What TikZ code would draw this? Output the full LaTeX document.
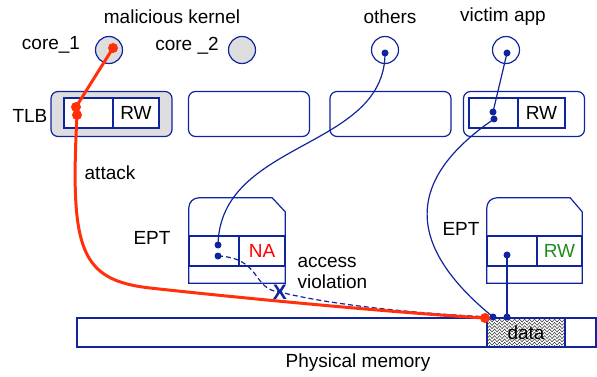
\documentclass[tikz,border=0pt]{standalone}
\usepackage{fontspec}
\setmainfont{Liberation Sans}
\usetikzlibrary{decorations.pathmorphing}
\definecolor{lnblue}{RGB}{16,36,158}
\definecolor{atkred}{RGB}{255,48,10}
\definecolor{okgreen}{RGB}{30,140,30}
\definecolor{coregray}{RGB}{222,222,222}

\begin{document}
\begin{tikzpicture}[x=1pt, y=-1pt, font=\fontsize{19}{21}\selectfont,
    core/.style={circle, draw=lnblue, line width=1.2pt, minimum size=27pt, inner sep=0pt},
    tlb/.style={rectangle, draw=lnblue, line width=1.2pt, rounded corners=7pt, minimum width=121pt, minimum height=45pt, inner sep=0pt},
    cell/.style={rectangle, draw=lnblue, line width=1.2pt, minimum height=30pt, inner sep=0pt},
    dot/.style={circle, fill=lnblue, inner sep=0pt, minimum size=7pt},
    rdot/.style={circle, fill=atkred, inner sep=0pt, minimum size=10pt},
    link/.style={draw=lnblue, line width=1.2pt},
    attack/.style={draw=atkred, line width=3pt}]
  \useasboundingbox (0,0) rectangle (597,377);

  \node (K) at (172,17) {malicious kernel};
  \node (OT) at (390,17) {others};
  \node (VT) at (503,17) {victim app};
  \node (L1) at (51,45) {core\_1};
  \node (L2) at (187,46) {core \_2};

  \node (C1) [core, fill=coregray] at (109,50) {};
  \node (C2) [core, fill=coregray] at (242,50) {};
  \node (O) [core] at (385,50) {};
  \node (V) [core] at (506,50) {};

  \node (TL) at (30,116) {TLB};
  \node (T1) [tlb, fill=coregray] at (111.5,114) {};
  \node (T2) [tlb] at (249,114) {};
  \node (T3) [tlb] at (390.5,114) {};
  \node (T4) [tlb] at (524,114) {};
  \node (T1a) [cell, fill=white, minimum width=49pt] at (88.5,113) {};
  \node (T1b) [cell, fill=white, minimum width=46pt] at (136,113) {RW};
  \node (T4a) [cell, minimum width=49pt] at (493.5,113) {};
  \node (T4b) [cell, minimum width=47pt] at (541.5,113) {RW};

  \node (AT) at (110,173) {attack};

  \node (EL1) at (152,238) {EPT};
  \node (E1) [minimum width=96pt, minimum height=85pt, inner sep=0pt] at (237,240.5) {};
  \draw[link] (E1.south west) [rounded corners=10pt] -- (E1.north west) [sharp corners]
    -- ([xshift=-13pt]E1.north east) -- ([yshift=-14pt]E1.north east) -- (E1.south east) -- cycle;
  \node (E1a) [cell, minimum width=50pt] at (214,251) {};
  \node (E1b) [cell, minimum width=46pt, text=red] at (262,251) {NA};

  \node (EL2) at (461,229) {EPT};
  \node (E2) [minimum width=95pt, minimum height=85pt, inner sep=0pt] at (534.5,240.5) {};
  \draw[link] (E2.south west) [rounded corners=10pt] -- (E2.north west) [sharp corners]
    -- ([xshift=-12pt]E2.north east) -- ([yshift=-14pt]E2.north east) -- (E2.south east) -- cycle;
  \node (E2a) [cell, minimum width=50pt] at (512,251) {};
  \node (E2b) [cell, minimum width=45pt, text=okgreen] at (559.5,251) {RW};

  \node (AV) [align=left, anchor=west] at (294,273) {access\\violation};

  \node (M) [rectangle, draw=lnblue, line width=1.2pt, minimum width=519pt, minimum height=29pt] at (336.5,332.5) {};
  \node (D) [rectangle, draw=lnblue, line width=1.2pt, minimum width=78pt, minimum height=29pt,
    path picture={
      \foreach \k in {0,...,9}
        \draw[black!80, line width=0.5pt, decorate, decoration={snake, amplitude=1.5pt, segment length=5pt}]
          ([xshift=-4pt, yshift=\k*3.3pt]path picture bounding box.south west)
          -- ([xshift=4pt, yshift=\k*3.3pt]path picture bounding box.south east);
    }] at (526,332.5) {data};
  \node (PM) at (358,363) {Physical memory};

  \coordinate (c1) at (113,48);
  \coordinate (o1) at (385,53);
  \coordinate (v0) at (507,53);
  \coordinate (t1a) at (76,107);
  \coordinate (t1b) at (77,115);
  \coordinate (bend) at (150,288);
  \coordinate (v1) at (493,112);
  \coordinate (v2) at (494,119);
  \coordinate (e1a) at (218,245);
  \coordinate (e1b) at (218,256);
  \coordinate (e2a) at (507,255);
  \coordinate (m1) at (485,318);
  \coordinate (m2) at (493,317);
  \coordinate (m3) at (507,317);

  \draw[link] (o1) .. controls (385,150) and (220,140) .. (e1a);
  \draw[link] (v0) -- (v1);
  \draw[link] (v2) .. controls (405,180) and (405,245) .. (m2);
  \draw[link] (e2a) -- (m3);
  \node (X) [text=lnblue, font=\fontsize{21}{21}\bfseries] at (280,292) {X};
  \draw[link, dashed, dash pattern=on 5pt off 3pt] (e1b) .. controls (262,258) and (252,290) .. (X.center)
    .. controls (330,305) and (420,314) .. (m2);

  \draw[attack] (c1) -- (t1a);
  \draw[attack] (t1a) -- (t1b);
  \draw[attack] (t1b) .. controls (70,250) and (80,280) .. (bend)
    .. controls (250,299) and (400,313) .. (m1);

  \foreach \p in {o1, v0, v1, v2, e1a, e1b, e2a, m2, m3}
    \node [dot] at (\p) {};
  \foreach \p in {c1, t1a, t1b, m1}
    \node [rdot] at (\p) {};
\end{tikzpicture}
\end{document}
